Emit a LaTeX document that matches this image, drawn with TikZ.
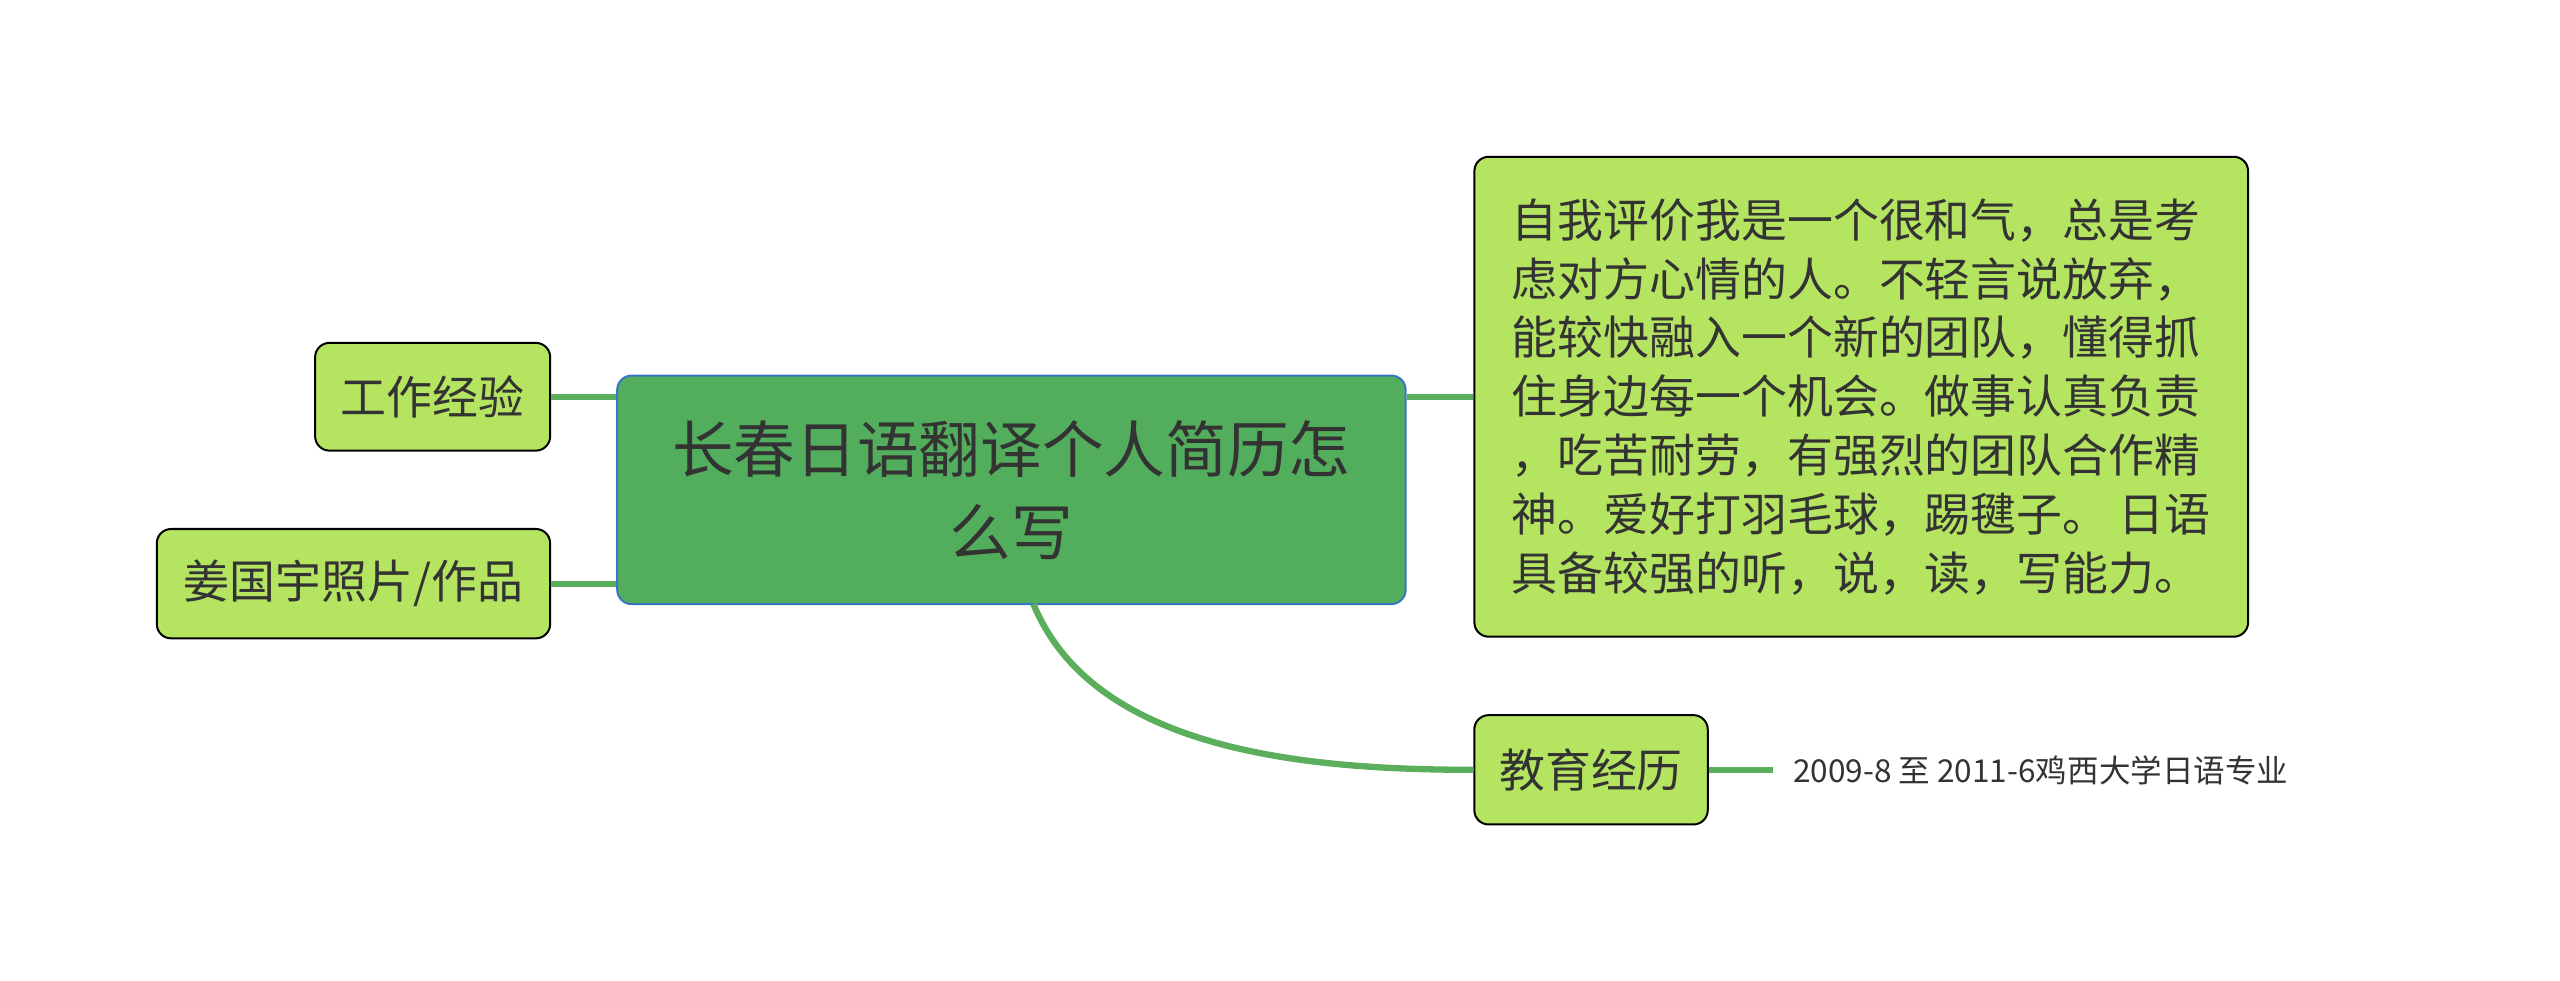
\documentclass[tikz,border=0pt]{standalone}
\usepackage{fontspec}
\setmainfont{Noto Sans CJK SC}
\usetikzlibrary{positioning}
\definecolor{edgegreen}{HTML}{5AAE5C}
\definecolor{rootgreen}{HTML}{52AE5C}
\definecolor{rootblue}{HTML}{3A75C4}
\definecolor{leafgreen}{HTML}{B5E461}
\definecolor{txtgray}{HTML}{333333}
\tikzset{
  leaf/.style={draw=black, fill=leafgreen, rounded corners=5pt, line width=0.7pt,
    text=txtgray, font=\fontsize{16}{22}\selectfont, inner sep=0pt},
  root/.style={draw=rootblue, fill=rootgreen, rounded corners=5pt, line width=0.7pt,
    text=txtgray, font=\fontsize{21.5}{29}\selectfont, align=center, inner sep=0pt},
  link/.style={draw=edgegreen, line width=2.2pt}
}
\begin{document}
\begin{tikzpicture}[x=0.02cm, y=-0.02cm]
  \useasboundingbox (0,0) rectangle (1568,600.8);
  % central topic
  \node[root, minimum width=9.66cm, minimum height=2.8cm] (center) at (619.5,300)
    {长春日语翻译个人简历怎\\么写};
  % left branches
  \node[leaf, minimum width=2.88cm, minimum height=1.32cm] (work) at (265,243) {工作经验};
  \node[leaf, minimum width=4.82cm, minimum height=1.34cm] (photo) at (216.5,357.5) {姜国宇照片/作品};
  % right branches
  \node[leaf, minimum width=9.48cm, minimum height=5.88cm, align=left,
    font=\fontsize{16}{20.5}\selectfont] (self) at (1140,243)
    {自我评价我是一个很和气，总是考\\虑对方心情的人。不轻言说放弃，\\能较快融入一个新的团队，懂得抓\\住身边每一个机会。做事认真负责\\，吃苦耐劳，有强烈的团队合作精\\神。爱好打羽毛球，踢毽子。 日语\\具备较强的听，说，读，写能力。};
  \node[leaf, minimum width=2.86cm, minimum height=1.34cm] (edu) at (974.5,471.5) {教育经历};
  \node[text=txtgray, font=\fontsize{11}{14}\selectfont, anchor=west, inner sep=0pt]
    (date) at (1098,472) {2009-8 至 2011-6鸡西大学日语专业};
  % connectors
  \coordinate (cw) at (center.west |- work.east);
  \coordinate (cp) at (center.west |- photo.east);
  \coordinate (ce) at (center.east |- self.west);
  \coordinate (cb) at (633,370);
  \coordinate (de) at (1086,471.5);
  \draw[link] (cw) -- (work.east);
  \draw[link] (cp) -- (photo.east);
  \draw[link] (ce) -- (self.west);
  \draw[link] (cb) .. controls (670,460) and (800,471.5) .. (edu.west);
  \draw[link] (edu.east) -- (de);
\end{tikzpicture}
\end{document}
